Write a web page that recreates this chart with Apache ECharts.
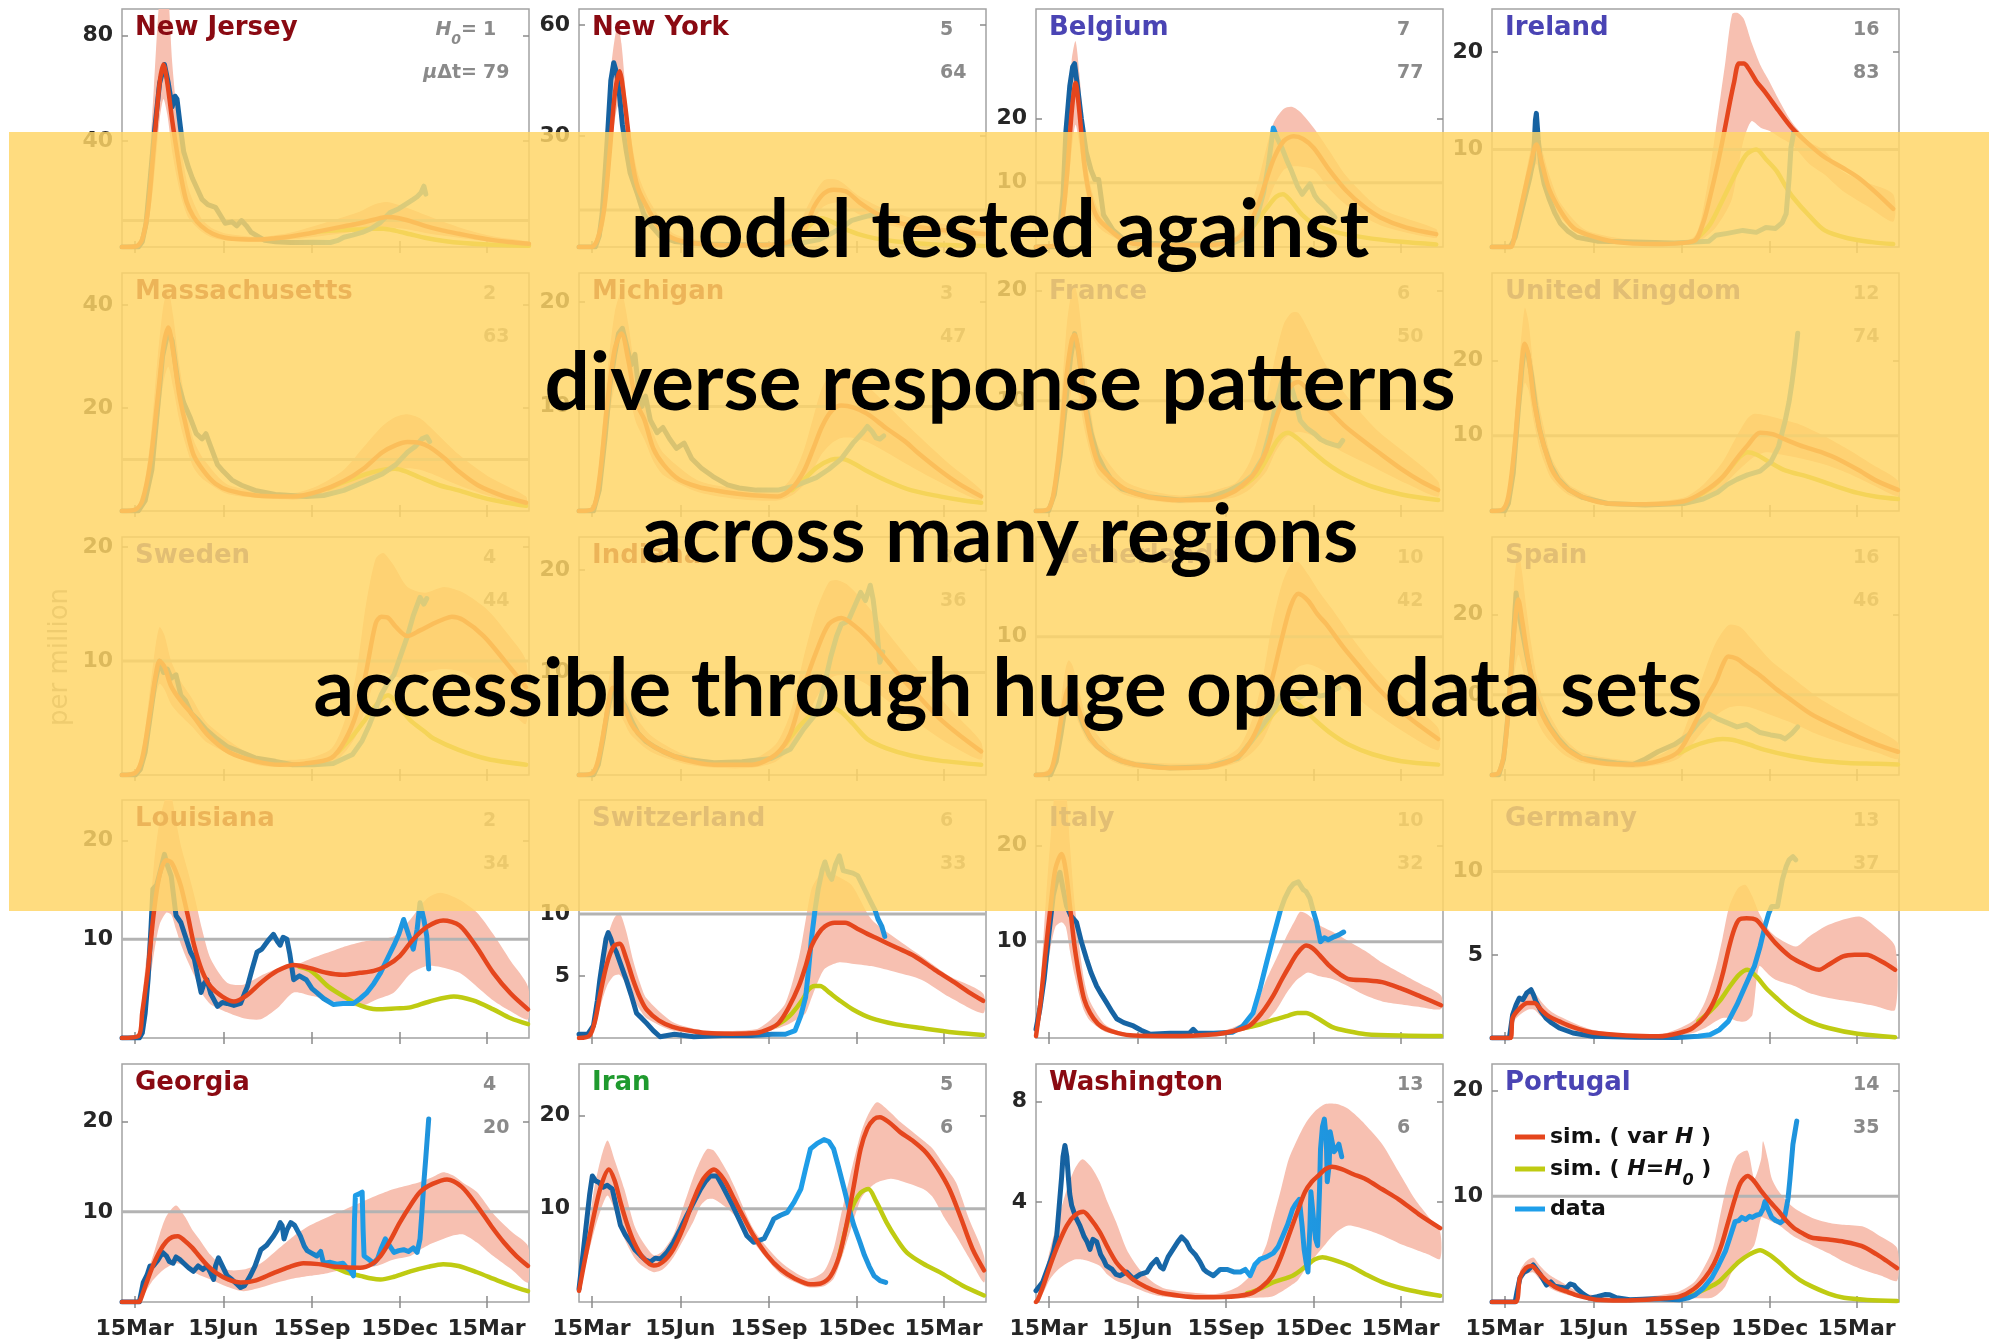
<!DOCTYPE html>
<html>
<head>
<meta charset="utf-8">
<script src="https://cdn.jsdelivr.net/npm/echarts@6.0.0/dist/echarts.min.js"></script>
<style>
  html, body { margin: 0; padding: 0; background: #ffffff; }
  #chart { width: 2001px; height: 1340px; }
</style>
</head>
<body>
<div id="chart"></div>
<script>
// ---- time axis: day number counted from 1 March 2020 ----
const tickDays = [14, 106, 198, 289, 379];
const tickLabels = ['15Mar', '15Jun', '15Sep', '15Dec', '15Mar'];
const dayMin = 1, dayMax = 423;
const REF_LEVEL = 10; // per-million guide line

// ---- regions, layout order row by row ----
const regions = ['New Jersey', 'New York', 'Belgium', 'Ireland',
  'Massachusetts', 'Michigan', 'France', 'United Kingdom',
  'Sweden', 'Indiana', 'Netherlands', 'Spain',
  'Louisiana', 'Switzerland', 'Italy', 'Germany',
  'Georgia', 'Iran', 'Washington', 'Portugal'];
const regionKind = ['us', 'us', 'eu', 'eu', 'us', 'us', 'eu', 'eu', 'eu', 'us', 'eu', 'eu',
  'us', 'eu', 'eu', 'eu', 'us', 'asia', 'us', 'eu'];
const h0Values = [1, 5, 7, 16, 2, 3, 6, 12, 4, 8, 10, 16, 2, 6, 10, 13, 4, 5, 13, 14];
const muDtValues = [79, 64, 77, 83, 63, 47, 50, 74, 44, 36, 42, 46, 34, 33, 32, 37, 20, 6, 6, 35];
const yMaxValues = [90, 64.3, 37, 24.4, 46.2, 22.8, 21.6, 31.6, 20.9, 23.2, 17.2, 29.7,
  24.1, 19.2, 24.7, 14.3, 26.4, 25.5, 9.5, 22.5];
const yTickValues = [[40, 80], [30, 60], [10, 20], [10, 20], [20, 40], [10, 20], [10, 20], [10, 20],
  [10, 20], [10, 20], [10], [10, 20], [10, 20], [5, 10], [10, 20], [5, 10],
  [10, 20], [10, 20], [4, 8], [10, 20]];

// ---- series per region: data [day, value], sim [day, value], simH0 [day, value], band [day, low, high] ----
const dataNJ = [[1,0],[18,0],[22,2],[26,9],[30,25],[35,45],[40,62],[45,69],[49,62],[53,53],[56,57],[58,56],[62,44],[65,36],[70,30],[74,26],[79,22],[84,18],[90,16],[98,15],[103,12],[108,9],[115,9.5],[120,8],[125,10],[130,8],[135,5.5],[142,4],[149,2.5],[160,2],[176,1.7],[200,1.8],[217,1.7],[225,2.5],[231,3.7],[240,4.5],[250,5.5],[259,6.9],[268,9],[279,13],[288,14.5],[297,16.6],[303,18],[307,19],[311,20.5],[314,23],[316,20]];
const simNJ = [[1,0],[16,0.3],[22,3],[28,14],[34,38],[40,62],[44,69],[48,62],[53,48],[58,36],[63,25],[68,17],[75,11.5],[83,8],[95,5],[108,3.5],[125,2.9],[143,2.8],[160,3.3],[176,4],[193,5],[210,6.3],[228,7.6],[245,8.8],[262,10.3],[276,11.3],[287,11],[300,9.8],[315,8],[333,6.3],[350,5],[367,3.8],[384,2.7],[402,1.9],[423,1.2]];
const h0NJ = [[200,5.6],[215,6.1],[230,6.4],[245,6.6],[260,6.9],[272,6.9],[285,6.1],[300,4.8],[315,3.5],[335,2.3],[355,1.5],[380,0.9],[400,0.7],[423,0.5]];
const bandNJ = [[1,0,0],[16,0,1],[22,1.5,6],[28,8,25],[34,25,60],[40,48,95],[44,56,100],[48,50,100],[53,36,70],[58,26,50],[63,18,36],[70,11,22],[83,6,11],[95,3.5,7],[110,2.4,5],[143,2,3.8],[176,2.8,5.5],[210,4.3,9],[245,6,13],[262,7,16],[276,7.5,17],[295,6.8,15],[320,5,11.5],[350,3.5,7.5],[384,1.9,4.2],[423,0.8,2]];

const dataNY = [[1,0],[18,0],[22,3],[25,9],[28,20],[31,32],[34,45],[37,49.8],[40,47],[43,41],[46,33],[50,26],[54,20],[58,17],[62,14],[68,9],[75,6],[85,3],[100,1.5],[130,0.8],[170,0.6],[210,0.7],[230,1],[250,2],[265,4],[275,5.5],[284,7.2],[295,8],[305,8.7],[308,8]];
const simNY = [[1,0],[14,0],[20,2],[27,10],[33,26],[38,41],[43,47.5],[48,40],[55,25],[62,16],[74,9.6],[85,5],[98,2.4],[120,1],[167,0.4],[200,0.6],[220,1.5],[235,5],[245,11],[255,14.5],[265,15.5],[278,15],[292,12],[310,9],[340,6],[380,4.5],[421,3.5]];
const h0NY = [[222,1.3],[235,4.5],[245,7],[252,7.8],[262,7],[280,4.5],[300,2.8],[330,1.5],[370,0.7],[421,0.3]];
const bandNY = [[1,0,0],[18,0,1],[27,6,15],[35,28,50],[41,38,60],[45,35,55],[52,22,35],[62,12,20],[75,6,12],[100,1.5,3.5],[170,0.3,0.8],[220,1,2.5],[240,6,12],[255,11,18],[270,12,18],[290,9,14],[320,6,10],[360,4,7],[421,2.5,4.5]];

const dataBE = [[1,0],[20,0],[25,2],[29,8],[32,18],[36,25],[39,28],[41,28.5],[44,25],[48,20],[53,14.8],[58,12],[62,10.5],[66,10.5],[71,5],[81,2.6],[92,1.2],[102,0.7],[130,0.5],[170,0.5],[205,0.6],[215,1.2],[225,3],[231,5.1],[237,8.5],[242,12.8],[247,18.5],[251,17],[256,15.4],[261,13.5],[266,11.8],[272,9.5],[277,8.2],[281,9],[285,9.8],[290,8],[294,7.2],[300,6.4],[305,5.6],[311,4.6]];
const simBE = [[1,0],[20,0.2],[27,3],[33,11],[38,21],[42,25.5],[46,21],[51,13],[57,7.7],[65,4.5],[78,2.6],[90,1.2],[102,0.5],[140,0.3],[190,0.4],[210,1.3],[222,3.5],[231,6.5],[240,10.5],[248,13.9],[258,16.5],[268,17.2],[278,16.8],[289,15.4],[305,12],[323,8.7],[340,6.4],[358,4.6],[385,3],[416,2]];
const h0BE = [[210,1.2],[225,3],[240,6],[250,7.8],[257,8.2],[265,7.2],[277,5],[289,3.6],[310,2.4],[341,1.5],[380,0.8],[416,0.4]];
const bandBE = [[1,0,0],[20,0,0.5],[27,2,5],[33,7,16],[38,15,29],[42,19,32],[46,16,27],[51,10,17],[57,5.5,10],[65,3.2,6],[78,1.8,3.5],[102,0.3,0.8],[190,0.2,0.6],[210,0.8,2],[222,2,5.5],[231,3.8,10],[240,6.5,15.5],[248,9.5,19.5],[258,12,21.5],[266,12.5,21.8],[275,12.5,21],[289,12,18.5],[305,9,15],[323,6.5,11],[358,3.4,6],[416,1.4,2.8]];

const dataIE = [[1,0],[20,0],[25,1],[30,3],[35,5],[40,7],[44,9],[46,13],[47,13.7],[49,11],[52,8],[55,6.5],[60,5],[66,3.5],[72,2.4],[80,1.6],[89,1],[110,0.6],[150,0.5],[190,0.4],[226,0.6],[233,1.2],[245,1.4],[261,1.7],[275,1.5],[285,2],[295,1.9],[302,2.5],[306,3.4],[309,7],[311,10.2],[314,11.8]];
const simIE = [[1,0],[20,0],[25,1.5],[32,4.5],[40,8],[47,10.5],[53,8.5],[60,6],[72,3.7],[85,2],[99,1.3],[130,0.5],[170,0.3],[210,0.6],[220,2.5],[227,5.1],[235,8.5],[242,11.9],[248,15],[252,16.9],[257,18.8],[262,18.8],[267,18.3],[275,17],[284,15.9],[298,14],[312,12.2],[330,10.5],[346,9.2],[365,8.1],[381,7.1],[400,5.5],[417,3.9]];
const h0IE = [[215,1],[227,2.3],[240,4.8],[255,7.8],[265,9.5],[275,10],[285,9],[296,7.8],[305,6.3],[313,5.1],[330,3.2],[346,1.7],[370,0.9],[395,0.5],[417,0.3]];
const bandIE = [[1,0,0],[20,0,0.5],[32,3.5,5.5],[40,6.5,9.5],[47,8.5,12.5],[53,7,10],[60,5,7.5],[72,3,4.5],[99,1,1.7],[170,0.2,0.5],[210,0.4,1],[222,1,5],[233,2,12],[243,3.5,19],[250,5,23.9],[256,8,24],[262,11,23.4],[270,12.9,21],[280,12.2,18.5],[289,11.9,16.9],[300,11.2,14.8],[312,10.5,12.8],[330,8.5,10.8],[346,7.4,9.9],[364,5.8,7.8],[390,4.2,6.6],[417,2.6,5.4]];

const dataMA = [[1,0],[18,0],[25,2],[32,8],[38,20],[43,30],[49,35],[53,33],[59,25],[65,21],[72,18],[78,15],[84,14],[88,15],[93,12.5],[100,9],[106,7.7],[115,6],[125,5],[139,4],[160,3.2],[192,2.8],[210,3],[231,4],[250,5.5],[271,7.2],[285,9],[297,11.4],[305,12.5],[312,14],[317,14.4],[320,13.5]];
const simMA = [[1,0],[15,0.3],[22,2],[30,9],[38,22],[44,32],[49,35.6],[54,31],[60,23],[66,17.6],[75,11],[86,7.7],[98,5.3],[112,4],[140,3],[178,2.8],[205,3.8],[231,5.8],[252,8.3],[271,11.4],[285,12.8],[297,13.4],[310,13.2],[320,12.4],[335,10.3],[350,7.7],[370,5],[395,3],[420,1.6]];
const h0MA = [[215,4.4],[231,5.6],[244,6.5],[260,7.5],[275,8.1],[284,8.2],[295,7.7],[310,6.5],[330,5],[350,4],[375,2.6],[400,1.6],[420,1]];
const bandMA = [[1,0,0],[15,0,0.6],[22,1.5,3],[30,6,13],[38,16,30],[44,25,40],[49,28,43],[54,24,38],[60,18,29],[66,13.5,22],[75,8.5,14],[86,6,10],[112,3.2,5],[178,2.2,3.5],[205,2.8,5],[231,4,8],[252,5.5,12.5],[271,7,16.5],[285,8,18.3],[297,8.3,18.8],[310,8,18],[325,7,15.5],[350,5,11],[380,3,6.8],[420,1,2.8]];

const dataMI = [[1,0],[16,0],[22,2],[28,7],[33,12],[38,15],[42,17],[46,17.5],[50,16],[55,14],[59,15],[62,12.3],[66,10],[70,11],[75,8.7],[82,7.5],[88,8],[95,6.9],[102,6],[110,6.5],[118,5],[128,4.1],[140,3.3],[155,2.5],[167,2.2],[185,2],[207,2],[225,2.4],[247,3.2],[260,4],[273,5],[285,6.5],[295,7.5],[300,8.1],[305,7.6],[309,7],[313,6.9],[317,7.2]];
const simMI = [[1,0],[15,0.2],[22,3],[30,10],[38,15.5],[45,17],[52,14.5],[60,10.5],[69,8.7],[78,6],[89,4.4],[105,3],[125,2.3],[141,2],[170,1.6],[207,1.4],[222,2.2],[234,3.8],[244,6],[253,8.1],[263,9.6],[273,10.1],[286,9.9],[300,9.3],[320,7.9],[340,6.6],[352,5.6],[375,3.9],[395,2.6],[418,1.4]];
const h0MI = [[222,2],[234,3],[248,4.2],[262,4.9],[273,5],[285,4.6],[300,3.8],[320,2.9],[345,2],[375,1.4],[400,1],[418,0.8]];
const bandMI = [[1,0,0],[15,0,0.5],[22,2,4.5],[30,7.5,13],[38,12,19],[45,13.5,21],[52,11.5,18],[60,8.5,13],[69,6.8,10.5],[78,4.8,7.5],[89,3.4,5.5],[125,1.8,2.9],[170,1.1,2.1],[207,1,1.9],[222,1.5,3.3],[234,2.5,5.8],[244,4,9],[253,5.5,11.8],[263,6.5,13.2],[273,7,13.5],[286,7,13],[300,6.6,12],[320,5.6,10.2],[352,3.9,7.3],[385,2.3,4.5],[418,1,2]];

const dataFR = [[1,0],[14,0],[20,1.5],[26,5],[32,10],[37,14],[41,16.1],[45,14.5],[50,11],[54,9],[58,7.1],[65,5],[72,3.8],[78,3],[90,2],[117,1.3],[150,1],[180,1.2],[200,1.8],[215,2.5],[225,3.2],[236,4.8],[243,7],[249,9.4],[255,11.5],[260,12.9],[265,11.5],[270,10],[275,8.2],[282,7.5],[290,7],[296,6.5],[303,6.2],[310,6],[315,5.9],[319,6.4]];
const simFR = [[1,0],[14,0.2],[20,2],[27,7],[33,12.5],[38,15.5],[41,16],[45,14.5],[51,10],[58,6.5],[66,4.2],[78,3],[95,1.9],[117,1.3],[150,1],[180,1],[205,1.7],[220,2.7],[229,3.6],[240,5.5],[249,8.2],[258,10.3],[266,11.4],[273,11.7],[283,11],[292,10.2],[302,9.4],[320,7.8],[340,6.4],[355,5.4],[380,3.8],[400,2.7],[418,1.9]];
const h0FR = [[215,2.2],[230,3.3],[242,5],[252,6.5],[262,7.1],[272,6.6],[285,5.6],[300,4.5],[315,3.6],[328,3],[350,2.2],[380,1.5],[418,1]];
const bandFR = [[1,0,0],[14,0,0.5],[20,1.2,3],[27,4.5,10],[33,8.5,17],[38,11,20],[41,11.5,20.5],[45,10.5,19],[51,7.5,14],[58,5,9],[66,3.2,5.8],[95,1.4,2.6],[150,0.7,1.4],[205,1.2,2.4],[220,1.8,4],[229,2.5,6],[240,3.6,10],[249,5.3,14],[258,6.5,17],[266,7,18],[273,7.2,18],[283,7,16.5],[300,6.3,13.5],[320,5.3,10.8],[355,3.8,7.3],[385,2.5,5.2],[418,1.3,2.7]];

const dataUK = [[1,0],[14,0],[18,1],[23,5],[28,13],[32,19],[35,22],[38,21],[42,18],[46,14],[50,11],[55,8.6],[62,6],[70,4.2],[81,2.8],[95,1.8],[121,1],[160,0.8],[200,1],[220,1.6],[235,2.5],[245,3.5],[255,4.2],[266,4.8],[279,5.3],[290,6.5],[298,8.5],[305,12],[309,14.5],[312,17],[315,20],[318,23.6]];
const simUK = [[1,0],[12,0.2],[18,2],[24,8],[30,17],[35,22.2],[39,20.5],[44,15],[50,11],[55,8.6],[63,5.5],[72,3.8],[81,2.8],[100,1.6],[121,1],[160,0.9],[200,1.3],[220,2.5],[240,4.5],[255,7],[266,8.7],[279,10.4],[292,10.2],[305,9.5],[325,8.5],[345,7.7],[358,7],[380,5.5],[400,4],[422,2.8]];
const h0UK = [[215,2],[235,3.8],[250,6],[258,7.2],[266,7.8],[275,7.5],[290,6.4],[305,5.4],[330,4.5],[355,3.4],[380,2.4],[400,1.9],[422,1.6]];
const bandUK = [[1,0,0],[12,0,0.5],[18,1.5,3],[24,6,11],[30,13,21],[35,17,27],[39,16,25],[44,12,19],[50,8.5,14],[55,6.5,11],[63,4.2,7],[81,2.1,3.5],[121,0.7,1.3],[160,0.6,1.2],[200,1,1.8],[220,1.8,3.5],[240,3.3,6.5],[255,5.2,10],[266,6.5,12.3],[273,7.2,12.9],[285,7.8,12.7],[300,7.5,12.2],[320,7,11.5],[345,6.2,10],[370,5,8.2],[395,3.5,6.2],[422,2,4]];

const dataSE = [[1,0],[15,0],[20,0.5],[25,2],[30,5],[35,8],[40,10],[44,9],[48,9.3],[52,8.5],[57,8.8],[62,7],[67,6.5],[73,5.4],[80,4.8],[88,4],[99,3.2],[110,2.5],[125,2],[139,1.5],[160,1.2],[178,0.9],[200,0.9],[220,1],[240,1.8],[250,3],[257,4.3],[264,5.8],[270,7.1],[276,8],[283,8.8],[290,10.5],[297,12.2],[303,14],[310,15.6],[314,15],[317,15.5]];
const simSE = [[1,0],[15,0.2],[22,1.5],[30,5.5],[36,8.8],[40,10],[45,9.5],[52,7.8],[62,6.5],[73,5.4],[90,3.5],[112,2],[140,1.2],[165,0.9],[190,1],[218,1.5],[232,3],[244,5.4],[254,9],[264,13.3],[270,13.9],[277,13.8],[285,13],[297,12.2],[310,12.7],[324,13.3],[335,13.7],[343,13.9],[355,13.6],[376,12.2],[398,10],[420,7.7]];
const h0SE = [[225,2],[240,3.4],[250,4.5],[257,5.3],[268,6.5],[277,7],[288,6],[300,4.8],[315,3.8],[324,3.2],[350,2.2],[380,1.4],[420,0.9]];
const bandSE = [[1,0,0],[15,0,0.5],[22,1,2.2],[30,4.2,7.5],[36,7,11.5],[40,8,13],[45,7.5,12.3],[52,6.2,10],[62,5.2,8.2],[73,4.3,6.8],[90,2.8,4.5],[140,0.9,1.6],[190,0.7,1.4],[218,1,2.3],[232,2,4.8],[244,3.5,9],[254,6,15],[264,8.5,19],[272,9,19.5],[282,8.7,18.5],[297,8.5,16.5],[315,9,16],[335,9.3,16.5],[355,9,16],[380,7.5,14.5],[400,6,12.5],[420,4.5,10]];

const dataIN = [[1,0],[16,0],[21,1],[26,3.5],[31,6.5],[35,8],[39,8.2],[44,7.5],[50,6.5],[56,5.2],[62,4.1],[70,3.3],[80,2.7],[88,2.3],[100,1.8],[115,1.5],[141,1.2],[170,1.3],[200,1.6],[220,2.5],[234,4.5],[247,6],[256,9],[262,11.5],[268,13.5],[273,14.7],[280,15],[287,16.5],[293,17.8],[298,17],[303,18.5],[306,17.1],[310,14],[313,11],[316,12]];
const simIN = [[1,0],[15,0.2],[21,1.5],[28,5],[33,7.8],[36,8.5],[40,8.2],[47,6.8],[55,5],[62,4.1],[75,3],[88,2.3],[110,1.5],[141,1],[180,1],[205,2],[220,4],[234,8.5],[247,12],[260,14.7],[273,15.3],[286,14.6],[300,13.4],[320,11.2],[337,9.3],[352,7.8],[375,5.5],[398,3.7],[418,2.3]];
const h0IN = [[215,3],[230,4.8],[245,6.1],[260,6.6],[272,6.2],[285,5],[300,3.5],[320,2.6],[345,1.9],[375,1.4],[418,1]];
const bandIN = [[1,0,0],[15,0,0.5],[21,1,2.5],[28,3.8,6.5],[33,6,10],[36,6.6,11],[40,6.4,10.6],[47,5.3,8.7],[55,3.9,6.4],[75,2.3,3.9],[110,1.1,2],[141,0.7,1.4],[180,0.7,1.5],[205,1.3,3],[220,2.6,6],[234,5,11.5],[247,7.5,16],[260,9.3,18.8],[268,9.7,19],[280,9.7,18.5],[300,8.8,16.5],[320,7.3,14],[350,5.2,10.5],[385,3,6.5],[418,1.5,3.2]];

const dataNL = [[1,0],[16,0],[22,1],[27,3],[31,4.8],[35,5.8],[39,5.6],[44,4.8],[50,3.6],[57,2.7],[64,2.1],[75,1.5],[90,1],[104,0.75],[140,0.5],[180,0.6],[210,1.2],[225,2.5],[236,3.6],[243,4.3],[249,4.9],[255,5.8],[262,6.3],[268,6],[274,5.6],[281,5.9],[288,6.1],[295,5.7],[302,5.8],[309,6.1],[315,6.3]];
const simNL = [[1,0],[15,0.2],[21,1.5],[27,4],[32,5.8],[35,6.3],[39,6],[45,4.8],[55,3],[64,2.1],[80,1.3],[104,0.75],[140,0.5],[180,0.6],[210,1.3],[225,2.6],[236,4.4],[246,7],[256,9.9],[265,12.2],[273,13.1],[283,12.6],[293,11.6],[302,10.9],[320,9.2],[338,7.7],[355,6.3],[380,4.6],[400,3.5],[418,2.6]];
const h0NL = [[220,2.1],[235,3.3],[248,4.5],[258,5.1],[265,5.3],[275,5],[290,4],[305,3.1],[325,2.2],[350,1.5],[380,1],[418,0.75]];
const bandNL = [[1,0,0],[15,0,0.5],[21,1,2.3],[27,3,5.5],[32,4.5,7.8],[35,5,8.3],[39,4.8,7.9],[45,3.8,6.3],[55,2.4,3.9],[80,1,1.7],[104,0.5,1],[180,0.4,0.9],[210,0.9,1.9],[225,1.6,4],[236,2.5,7],[246,4,11],[256,5.8,13.8],[265,7.2,15.2],[273,7.8,15.4],[283,8,14.5],[295,7.7,13.2],[310,7,11.8],[330,5.8,9.8],[355,4.4,7.6],[385,3,5.4],[418,1.8,3.4]];

const dataES = [[1,0],[8,0],[13,2],[18,8],[22,15],[26,22.7],[29,20],[33,17.5],[37,15],[41.5,12.4],[46,10],[52,8],[61,6],[70,4.5],[80,3.2],[94,2.1],[110,1.8],[130,1.5],[147,1.3],[160,2],[173,2.9],[190,3.8],[205,5],[215,6.5],[226,7.6],[235,7],[245,6.5],[255,6],[265,6.3],[279,5.3],[290,5],[300,4.8],[305,4.5],[312,5.2],[318,6]];
const simES = [[1,0],[8,0.3],[14,3],[19,10],[24,18],[28.3,21.9],[32,19.5],[37,15.5],[41.5,12.4],[47,9.5],[54,7.3],[61,5.8],[75,3.6],[94,2.1],[120,1.4],[147,1.3],[175,1.8],[195,3],[213,6.9],[223,9.5],[233,11.6],[240,13.7],[246,14.8],[255,14.5],[265,13.6],[279,12.4],[295,10.8],[312,9.3],[332,7.6],[355,6.2],[380,4.8],[400,3.8],[422,2.9]];
const h0ES = [[195,2.7],[210,3.6],[225,4.2],[240,4.5],[250,4.4],[265,3.9],[285,3.1],[310,2.4],[340,1.8],[370,1.5],[400,1.4],[422,1.3]];
const bandES = [[1,0,0],[8,0,0.6],[14,2,4.5],[19,7,13.5],[24,12.5,24],[28.3,15,28],[32,13.5,25.5],[37,11,20.5],[41.5,9,16.5],[47,7,12.5],[54,5.3,9.5],[61,4.2,7.5],[75,2.6,4.7],[94,1.5,2.8],[147,0.9,1.8],[175,1.3,2.5],[195,2.1,4.2],[213,4.5,10],[223,6,13.5],[233,7.4,16.5],[246,8.4,18.7],[258,8.6,18.5],[270,8.4,17],[290,7.5,14.3],[312,6.5,12.2],[340,5,9.6],[370,3.8,7.5],[400,2.8,5.6],[422,2,4]];

const dataLA = [[1,0],[19,0],[22,0.5],[25,2.5],[28,5.9],[31,11],[33,15.1],[37,15.5],[41,17],[45,18.6],[48,17.5],[52,16.4],[55,14],[57,12.4],[62,11.7],[66,10.5],[72,8.7],[76,8],[80,6],[83,4.6],[86,5.5],[89,5.9],[93,4.5],[100,3.2],[105,3.6],[110,3.5],[117,3.3],[124,3.5],[128,4.5],[131,5.2],[136,7],[141,8.7],[146,9],[152,9.8],[158,10.5],[162,9.8],[165,9.4],[168,10.2],[172,10],[175,8.5],[179,5.9],[185,6.3],[192,5.9],[198,5],[203,4.6],[210,4],[220,3.4],[230,3.5],[241,3.5],[248,4],[255,4.6],[262,5.5],[269,6.6],[276,8],[283,9.4],[288,10.5],[293,12],[298,10.5],[303,9],[307,11],[310,13.7],[314,12],[317,10.3],[319,7]];
const simLA = [[1,0],[18,0.2],[22,2.6],[28,7],[34,12.7],[40,16.5],[47,18],[52,17.8],[57,16.8],[62,15.4],[69,12.5],[76,9.3],[84,6.8],[93,5.2],[105,4.2],[117,3.7],[130,4.3],[145,5.6],[162,6.8],[179,7.4],[195,7.1],[213,6.6],[230,6.4],[248,6.6],[262,6.8],[275,7.3],[289,8.3],[303,10],[318,11.3],[334,11.9],[351,11.4],[368,9.3],[386,6.6],[404,4.5],[422,2.9]];
const h0LA = [[185,7.2],[195,6.9],[203,6.3],[215,5.2],[231,4.2],[248,3.3],[265,2.9],[285,3],[300,3.1],[320,3.7],[345,4.2],[365,3.8],[386,2.9],[404,2],[422,1.4]];
const bandLA = [[1,0,0],[18,0,0.5],[22,1.5,4],[28,4.5,10],[34,8.5,17.5],[40,11.5,22],[47,12.7,24.5],[52,12.5,24.5],[57,11,22],[62,9.5,19.5],[69,7.8,17],[76,6.3,14.4],[84,4.5,11],[93,3.4,8],[110,2.6,5.6],[127,2,5.4],[145,1.9,6.3],[162,3,7],[179,4.6,7.3],[196,4.3,8],[213,3.9,8.6],[230,3.5,9.2],[248,3.2,9.7],[265,3.9,10],[283,4.6,10.3],[300,6.5,12],[317,7.3,14.1],[331,7.2,14.7],[351,6.6,14],[369,5.2,12.7],[386,3.8,10.5],[404,2.7,7.8],[422,1.9,5.2]];

const dataCH = [[1,0.3],[10,0.3],[16,1],[20,3],[22.6,4.7],[26,6.5],[29,8],[31.3,8.5],[34,8],[36,7.5],[39.9,6.9],[44,6],[50,4.7],[55,3.5],[60.7,2],[66,1.6],[71,1.2],[78,0.6],[85,0.1],[100,0.3],[120,0.1],[150,0.2],[180,0.2],[201,0.3],[215,0.3],[225,0.6],[231,1.8],[236,3.3],[239,5.5],[242,8],[246,10.5],[249,12],[253,13.5],[256,14.2],[260,13.2],[263,12.8],[267,14],[271,14.7],[275,13.5],[280,13.4],[285,13.3],[290,13.1],[297,12],[304,10.9],[308,10.3],[311,9.6],[315,9],[318,8.2]];
const simCH = [[1,0],[12,0.2],[18,1.5],[22.6,3.4],[30,6],[37,7.4],[43,7.6],[50,6.4],[57,4.7],[64,3.3],[71,2.3],[84,1.4],[98,0.9],[115,0.6],[133,0.4],[160,0.35],[184,0.4],[200,0.8],[208,1.2],[218,2.4],[229,4.2],[236,5.8],[242,7.4],[249,8.4],[256,9],[266,9.3],[277,9.3],[290,8.8],[300,8.4],[311,8],[330,7.3],[349,6.6],[370,5.5],[390,4.5],[405,3.7],[420,3]];
const h0CH = [[205,1],[215,1.5],[222,2],[232,3],[239,3.9],[245,4.2],[251,4.2],[260,3.7],[270,3.1],[285,2.3],[304,1.6],[330,1.1],[356,0.8],[390,0.45],[420,0.25]];
const bandCH = [[1,0,0],[12,0,0.5],[18,1,2.5],[22.6,2.4,5],[30,4.2,8],[37,5,9.6],[43,5.1,10.1],[50,4.3,8.6],[57,3.2,6.3],[64,2.3,4.5],[71,1.6,3.2],[98,0.6,1.3],[133,0.3,0.6],[184,0.3,0.7],[200,0.6,1.5],[215,1,2.8],[229,1.6,6.5],[236,2,9.5],[242,3.2,12],[249,4.6,13],[256,5.6,13.6],[270,6.1,13],[284,6,12.3],[304,5.8,9.6],[330,5.3,8],[356,4.7,6.6],[385,3.3,5],[420,2,3.6]];

const dataIT = [[1,0.9],[5,3],[9.4,6.1],[14,10.5],[18.9,14.8],[23,16.5],[25.8,17.2],[29,15.5],[32.7,13.7],[37,12.7],[43,12],[48,10],[53.4,8.2],[58,6.8],[63.8,5.4],[69,4.5],[74,3.7],[80,2.7],[84.6,2],[92,1.6],[102,1.25],[110,0.8],[119,0.4],[140,0.5],[160,0.5],[164,0.9],[168,0.5],[185,0.5],[205,0.6],[215,1.2],[226,2.6],[233,5],[240,7.8],[247,10.5],[254,13.1],[259,14.5],[264,15.5],[268,16],[273,16.2],[278,15.4],[281,15.2],[285,14.5],[289,13],[292,12],[294,11],[296,10],[300,10.4],[304,10.2],[306,10.3],[310,10.5],[315,10.7],[320,11]];
const simIT = [[1,0.2],[6,4],[11,9],[15.5,13.1],[21,17.5],[27.5,19.1],[32,17.3],[36.2,13.7],[41,9.5],[46.5,6.1],[51,4],[57,2.6],[65,1.5],[74,0.9],[86,0.5],[102,0.25],[140,0.2],[188,0.4],[205,0.7],[222,1.25],[235,2.6],[247,4.4],[256,6.1],[264,7.5],[272,8.8],[281,9.6],[288,9.3],[295,8.6],[305,7.5],[315,6.7],[326,6.1],[343,6],[360,5.8],[378,5.2],[400,4.3],[421,3.4]];
const h0IT = [[215,1],[233,1.4],[248,1.9],[262,2.3],[272,2.6],[281,2.6],[292,2.1],[309,1.1],[325,0.7],[343,0.4],[380,0.25],[421,0.2]];
const bandIT = [[1,0,0.4],[6,2.5,6],[11,6,14],[15.5,9,20],[21,11.5,26],[27.5,12,28],[32,11.5,26],[36.2,9,20],[41,6.5,14],[46.5,4.2,9],[51,2.8,6],[57,1.8,3.8],[74,0.6,1.3],[102,0.15,0.4],[188,0.3,0.6],[222,0.9,2],[240,1.8,6.1],[250,2.9,8.2],[261,4.7,10.6],[270,5.9,12.3],[275,6.3,13.1],[283,6.8,12.8],[295,6.4,11.7],[309,6.1,11],[326,5.3,10],[343,4.4,9],[360,3.8,7.8],[378,3.5,6.8],[400,3.2,5.6],[421,3,4.4]];

const dataDE = [[1,0],[19,0],[22.4,1.4],[26,2],[29.3,2.4],[33,2.3],[37,2.7],[41.5,2.9],[44,2.6],[46.5,2.2],[52,1.6],[56.9,1.2],[63,0.9],[70.7,0.6],[85,0.3],[105,0.1],[150,0.05],[193,0.03],[215,0.1],[227,0.2],[237,0.5],[246,1],[255,2],[263,3.05],[268,3.7],[273,4.3],[279,5.5],[284,6.7],[288,7.5],[291,7.9],[297,7.9],[302,9.5],[306,10.3],[309,10.7],[313,10.9],[316,10.7]];
const simDE = [[1,0],[20,0],[22.4,1.2],[30,1.8],[38,2.1],[44.8,2.1],[52,1.7],[60,1.3],[70.7,1],[85,0.65],[105,0.33],[140,0.15],[174,0.1],[195,0.3],[209,0.6],[222,1.3],[233,2.45],[240,3.8],[247,5.5],[252,6.5],[257,7.1],[265,7.2],[275,7.1],[285,6.4],[295,5.7],[310,4.9],[322,4.5],[333,4.2],[340,4.1],[350,4.4],[365,4.9],[377,5],[389,5],[405,4.6],[419,4.1]];
const h0DE = [[215,1],[227,1.6],[238,2.3],[247,3.05],[257,3.8],[266,4.1],[275,3.7],[285,3],[295,2.45],[310,1.7],[330,1],[350,0.6],[380,0.25],[419,0.05]];
const bandDE = [[1,0,0],[20,0,0.2],[22.4,0.9,1.6],[30,1.4,2.3],[38,1.7,2.6],[44.8,1.7,2.7],[52,1.3,2.2],[60,1,1.7],[70.7,0.7,1.3],[105,0.2,0.5],[174,0.05,0.2],[209,0.3,1],[222,0.6,2.2],[233,1,4.2],[240,1.2,6],[247,1.2,7.9],[256,1,9],[264,1,9.2],[271,1.4,8.5],[278,4.3,7.5],[288,3.8,6.5],[295,3.5,6.1],[316,3.1,5.5],[330,2.7,6.1],[350,2.4,6.8],[382,2.1,7.3],[400,1.9,6.6],[419,1.7,5.5]];

const dataGA = [[1,0],[19,0],[23,2.15],[27,3],[30,4],[33.4,4],[38,4.6],[43,5.5],[47.2,5.1],[50,4.5],[54,4.3],[57,5],[61,4.7],[65,4.3],[70,3.8],[75,3.4],[80,4],[85,3.6],[89,4],[93,3.2],[96,2.5],[98,4],[101,4.9],[105,4],[110,2.9],[115,2.5],[120,2],[124,1.6],[128,1.8],[134,2.9],[139,4],[145,5.8],[151,6.3],[158,7.3],[162,8],[165,8.8],[167,8.5],[169,7],[172,8],[176,8.8],[180,8.5],[186,7.3],[190,6.2],[193,5.7],[198,5.4],[203,5.1],[207,5.6],[210,4.3],[217,4.4],[224,4.2],[230,4.3],[234,3.8],[238,3.5],[241,2.9],[242,9],[243,11.8],[247,12],[250,12.2],[251,8],[252,5.1],[256,4.8],[262,4.3],[266,4.8],[270,6],[274,7],[278,6.3],[283,5.5],[288,5.7],[293,5.8],[298,5.6],[303,6],[307,5.5],[310,7],[312,10],[314,13.3],[316,16],[319,20.3]];
const simGA = [[1,0],[18,0],[20,0.2],[26,2],[33,4],[40,5.6],[47,6.7],[53,7.2],[59,7.3],[66,6.8],[74,6],[81,5.1],[90,4],[99,3.2],[111,2.5],[124,2.15],[140,2.4],[158,3.2],[175,3.9],[189,4.3],[205,4.2],[224,3.9],[248,3.8],[260,4.2],[269,5.1],[279,6.8],[289,8.8],[300,10.7],[310,12.2],[323,13.1],[338,13.6],[353,12.8],[369,10.7],[384,8.4],[397,6.6],[410,5.1],[422,4]];
const h0GA = [[215,4],[224,3.7],[236,3.2],[248,2.9],[260,2.6],[269,2.5],[283,2.8],[300,3.4],[318,3.9],[334,4.2],[350,4],[369,3.3],[390,2.4],[405,1.8],[422,1.2]];
const bandGA = [[1,0,0],[18,0,0.3],[26,1.2,2.8],[33,2.4,5.1],[40,3.2,7.5],[47,3.8,9.5],[57,4.3,10.7],[66,4,9.5],[74,3.4,8],[81,3,7],[93,2.5,5.2],[110,1.7,3.6],[127,1.2,3.6],[145,1.6,4.3],[162,2.15,5.8],[179,2.6,7.3],[196,2.9,8.5],[214,3.2,9.4],[231,3.6,10.2],[248,3.8,11],[265,4,11.8],[282,4.7,12.5],[300,5.1,13],[310,5.8,13.3],[322,6.5,13.8],[334,7,14.4],[345,7.4,14],[355,7.5,13.2],[369,6.6,12.2],[386,5.1,9.8],[405,3.6,7.8],[422,2.15,6.2]];

const dataIR = [[1,1.4],[5,5],[9.6,9.3],[12,11.5],[14.8,13.5],[18,13],[21.7,12.8],[26,12.3],[30.3,12.5],[33,12.3],[35.5,12.1],[39,10.5],[44,8.2],[49,7.2],[54.4,6.4],[59,5.6],[64.8,5],[70,4.5],[75,4.3],[80,4.7],[85.5,4.6],[92,5.3],[99,6.4],[106,7.8],[113,9.3],[120,10.7],[127,12.1],[132,12.9],[137,13.5],[144,13.5],[150,12.4],[155,11.4],[160,10.4],[165,9.3],[170,8.2],[175,7.1],[182,6.4],[188,6.6],[193,6.8],[198,7.8],[203,8.9],[210,9.3],[217,9.6],[224,10.7],[231,12.1],[236,14.3],[241,16.4],[248,17],[255,17.4],[260,17.2],[265,16.4],[270,14.5],[276,12.1],[281,10],[286,8.2],[292,6.5],[297,5],[302,3.8],[307,2.8],[313,2.3],[319,2.1]];
const simIR = [[1,1.2],[8,5],[16.5,9.3],[24,12.5],[32,14.2],[38,13],[44,10.7],[51,8.3],[58,6.4],[67,4.8],[78.5,3.9],[88,4.3],[99,5.7],[110,8.2],[120,11],[130,13.2],[141,14.2],[152,13],[162,11],[172,9],[182,7.1],[196,5],[210,3.5],[225,2.5],[241,1.9],[252,2],[262,2.8],[271,5],[279,8.6],[286,12.5],[293,16.4],[300,18.6],[307,19.6],[313,19.8],[323,19.2],[334,18.2],[348,17.2],[361,16],[373,14.3],[385,12.1],[397,9],[409,5.7],[421,3.4]];
const h0IR = [[271,5],[279,8.4],[285,10.3],[293,11.7],[301,12.1],[309,10.8],[320,8.5],[330,6.8],[341,5.3],[358,4.1],[375,3.2],[398,1.8],[421,0.7]];
const bandIR = [[1,1,1.4],[8,4,6],[16.5,7.5,12],[24,10,15.5],[30.6,11.4,17.3],[38,9.8,15.2],[48,6.8,12.1],[58,4.8,8.3],[65,4,6.8],[78.5,3.2,5],[88,3.5,5.5],[99,4.8,7.2],[110,6.8,10.5],[120,8.7,13.5],[127,10.3,15.2],[134,11,16.4],[141,11,16.2],[155,10,13.9],[162,9.3,12.4],[182,6.4,7.8],[210,3,4.3],[238,1.6,2.5],[255,1.7,3.3],[265,2.5,5.7],[272,4.3,9],[282,7.5,13.5],[293,11,18],[300,12,19.9],[310,12.8,21.4],[324,13.2,20.3],[334,13,19.3],[358,12.1,17.3],[368,11.2,16.4],[380,9,14.6],[392,7.1,12.8],[405,4.8,9],[421,2.1,4.9]];

const dataWA = [[1,0.45],[8,0.8],[15.6,1.6],[19,2],[22.5,2.65],[25,3.8],[27.6,5],[29,5.8],[31,6.25],[33,5.8],[34.5,5],[36,4.3],[38,3.85],[42,3.4],[46.5,3.05],[51,2.6],[54,2.4],[57,2.1],[60,2.5],[64,2.4],[68,1.9],[71,1.7],[74,1.45],[80,1.3],[84,1.1],[88,1.05],[95,1.2],[102,0.92],[109,1.1],[116,1.19],[121,1.5],[126,1.7],[130,1.4],[133,1.32],[138,1.8],[143,2.1],[148,2.4],[152,2.6],[157,2.4],[161,2.1],[166,1.9],[171,1.6],[175,1.3],[178,1.2],[185,1.05],[192,1.3],[199,1.3],[206,1.2],[213,1.2],[218,1.3],[223,1.05],[228,1.5],[233,1.7],[240,1.8],[247,1.95],[252,2.2],[257,2.65],[262,3.1],[267,3.7],[270,3.9],[274,4.1],[277,3],[279,2.1],[281,1.6],[283,1.2],[285,3],[286,4.4],[289,3.2],[291,2.5],[293,2.25],[295,4.5],[296,6.1],[298,7],[300,7.3],[302,6.5],[303,4.8],[305,5.5],[306,6.8],[308,6.4],[310,6],[312,6.1],[315,6.3],[318,5.8]];
const simWA = [[1,0],[3,0.1],[9,0.7],[15.6,1.45],[24,2.3],[33,3.05],[41,3.45],[50,3.6],[58,3.3],[67,2.8],[75,2.2],[84,1.6],[92,1.25],[101,0.92],[115,0.6],[129,0.39],[150,0.25],[170,0.19],[195,0.2],[222,0.32],[235,0.6],[246,1.05],[255,1.8],[263,2.65],[272,3.6],[280,4.4],[287,4.8],[294,5.05],[301,5.3],[308,5.4],[318,5.3],[330,5.1],[343,4.9],[360,4.5],[377,4.1],[398,3.5],[420,2.95]];
const h0WA = [[220,0.35],[233,0.52],[248,0.8],[267,1.05],[280,1.4],[290,1.7],[298,1.79],[308,1.7],[326,1.45],[343,1.1],[360,0.79],[380,0.55],[400,0.38],[420,0.25]];
const bandWA = [[1,0,0],[3,0,0.3],[9,0.4,1],[15.6,0.92,2.1],[24,1.3,3.3],[33,1.55,4.5],[41,1.7,5.3],[49,1.7,5.7],[58,1.6,5.4],[67,1.45,4.8],[75,1.1,4],[84,0.85,3.2],[95,0.7,2.1],[108,0.5,1.32],[122,0.3,0.8],[136,0.2,0.52],[187,0.12,0.32],[210,0.14,0.6],[226,0.17,1.19],[240,0.19,2.3],[246,0.22,3.2],[255,0.4,4.5],[263,0.6,5.7],[272,0.85,6.5],[280,1.3,7.1],[290,1.8,7.6],[301,2.3,7.9],[313,2.8,7.9],[325,3.05,7.7],[342,2.9,7.1],[360,2.65,6.3],[377,2.35,5.2],[394,2.1,4.1],[408,1.9,3.4],[420,1.72,2.8]];

const dataPT = [[1,0],[25,0],[27,1],[30,2.3],[34,2.8],[38,3],[43.7,3.5],[47,3.1],[51,2.6],[57.5,1.6],[62,1.9],[66,1.5],[72,1.4],[78,1.3],[82,1.7],[86,1.6],[88.6,1.3],[95,0.8],[102,0.37],[110,0.5],[118,0.7],[123,0.69],[130,0.4],[144,0.22],[170,0.3],[195,0.22],[205,0.4],[212,0.69],[220,1.3],[229,2.3],[236,3.5],[243,4.8],[248,6.2],[253,7.6],[257,7.7],[260,8],[264,7.8],[268,8.1],[271,8],[275,8.2],[279,8.3],[282,8.8],[284,9.5],[287,8.8],[291,8],[295,7.7],[300,7.5],[303,7.7],[305,8.3],[308,9.8],[310,11.7],[313,14.9],[315,16],[317,17.1]];
const simPT = [[1,0],[25,0],[30,2.3],[36,3.2],[42,3.4],[49,2.8],[57.5,2],[67,1.4],[78,1],[92,0.55],[109,0.22],[135,0.15],[161,0.22],[180,0.35],[195,0.5],[210,1.2],[222,2.3],[231,3.6],[239,5.4],[246,7.6],[253,9.8],[259,11.3],[266,11.9],[273,11.4],[280,10.5],[289,9.5],[298,8.6],[306,7.7],[314,7],[323,6.5],[332,6.1],[350,5.9],[366,5.7],[384,5.3],[400,4.5],[410,3.9],[421,3.2]];
const h0PT = [[200,0.5],[212,0.8],[224,1.3],[236,1.9],[247,2.9],[257,3.8],[268,4.5],[279,4.9],[288,4.5],[298,3.8],[310,2.8],[320,2.1],[332,1.5],[350,0.8],[366,0.4],[390,0.2],[421,0.1]];
const bandPT = [[1,0,0],[25,0,0.2],[30,1.6,2.9],[36,2.6,3.8],[43.7,2.8,4.2],[50,2.2,3.5],[60,1.4,2.6],[71,0.9,2],[90,0.45,1],[126,0.1,0.4],[160,0.1,0.5],[195,0.2,1],[212,0.35,2],[229,0.4,4.8],[236,0.8,7.5],[243,1.5,10.5],[250,2.9,12.8],[256,3.8,13.9],[266,4.6,14.3],[273,5.4,11.7],[280,8,13.5],[282,8,15.2],[287,7.8,13.5],[291,7.6,11.7],[298,7.3,10.5],[314,6.2,8.9],[332,5.4,8],[350,4.6,7.5],[366,3.8,7.3],[387,3,7.1],[404,2.5,6.2],[421,2,5.1]];

const dataSets = [dataNJ, dataNY, dataBE, dataIE, dataMA, dataMI, dataFR, dataUK, dataSE, dataIN, dataNL, dataES, dataLA, dataCH, dataIT, dataDE, dataGA, dataIR, dataWA, dataPT];
const simSets = [simNJ, simNY, simBE, simIE, simMA, simMI, simFR, simUK, simSE, simIN, simNL, simES, simLA, simCH, simIT, simDE, simGA, simIR, simWA, simPT];
const h0Sets = [h0NJ, h0NY, h0BE, h0IE, h0MA, h0MI, h0FR, h0UK, h0SE, h0IN, h0NL, h0ES, h0LA, h0CH, h0IT, h0DE, h0GA, h0IR, h0WA, h0PT];
const bandSets = [bandNJ, bandNY, bandBE, bandIE, bandMA, bandMI, bandFR, bandUK, bandSE, bandIN, bandNL, bandES, bandLA, bandCH, bandIT, bandDE, bandGA, bandIR, bandWA, bandPT];

// ---- look ----
const RED = '#E5461D', YEL = '#BFCB12', BAND = '#F7C0B1', REFC = '#b3b3b3';
const BLUE_DARK = '#15609F', BLUE_LIGHT = '#1E9FEA';
const titleColor = { us: '#8A0A12', eu: '#4A44B4', asia: '#1F9A2E' };
const FONT = '"DejaVu Sans", "Liberation Sans", sans-serif';

const gridLeft = [122, 579, 1036, 1492];
const gridTop = [9, 273, 537, 800, 1064];
const gridW = 407, gridH = 238;

const chart = echarts.init(document.getElementById('chart'), null, { renderer: 'canvas' });

const grids = [], xAxes = [], yAxes = [], series = [], elems = [];
const tickStyle = { color: '#8a8a8a', width: 1.5 };

regions.forEach((name, i) => {
  const c = i % 4, r = Math.floor(i / 4);
  const L = gridLeft[c], T = gridTop[r], R = L + gridW;
  grids.push({ left: L, top: T, width: gridW, height: gridH, show: true,
    borderColor: '#a3a3a3', borderWidth: 1.5, backgroundColor: 'rgba(0,0,0,0)' });

  const xBase = { gridIndex: i, type: 'value', min: dayMin, max: dayMax,
    axisLine: { show: false }, splitLine: { show: false } };
  xAxes.push(Object.assign({}, xBase, {
    position: 'bottom',
    axisTick: { show: true, inside: true, length: 6, lineStyle: tickStyle, customValues: tickDays },
    axisLabel: { show: r === 4, customValues: tickDays, margin: 16,
      formatter: v => tickLabels[tickDays.indexOf(v)] || '',
      fontSize: 22, fontWeight: 'bold', color: '#262626', fontFamily: FONT }
  }));
  xAxes.push(Object.assign({}, xBase, {
    position: 'top',
    axisTick: { show: true, inside: true, length: 6, lineStyle: tickStyle, customValues: tickDays },
    axisLabel: { show: false }
  }));

  const yBase = { gridIndex: i, type: 'value', min: 0, max: yMaxValues[i],
    axisLine: { show: false }, splitLine: { show: false } };
  yAxes.push(Object.assign({}, yBase, {
    position: 'left',
    axisTick: { show: true, inside: true, length: 6, lineStyle: tickStyle, customValues: yTickValues[i] },
    axisLabel: { show: true, customValues: yTickValues[i], margin: 9,
      fontSize: 22, fontWeight: 'bold', color: '#262626', fontFamily: FONT }
  }));
  yAxes.push(Object.assign({}, yBase, {
    position: 'right',
    axisTick: { show: true, inside: true, length: 6, lineStyle: tickStyle, customValues: yTickValues[i] },
    axisLabel: { show: false }
  }));

  const xi = 2 * i, yi = 2 * i;
  const common = { type: 'line', xAxisIndex: xi, yAxisIndex: yi, showSymbol: false, symbol: 'none',
    silent: true, clip: true };
  const band = bandSets[i];

  // uncertainty band as one filled polygon between the low and high edges
  series.push({
    type: 'custom', name: 'band', xAxisIndex: xi, yAxisIndex: yi, silent: true, z: 1,
    data: [[dayMin, 0]],
    renderItem: (params, api) => {
      const upper = band.map(b => api.coord([b[0], b[2]]));
      const lower = band.map(b => api.coord([b[0], b[1]])).reverse();
      const cs = params.coordSys;
      return {
        type: 'group',
        clipPath: { type: 'rect', shape: { x: cs.x, y: cs.y, width: cs.width, height: cs.height } },
        children: [{ type: 'polygon', shape: { points: upper.concat(lower), smooth: 0.25 },
          style: { fill: BAND } }]
      };
    }
  });

  // reference level line
  if (yMaxValues[i] > REF_LEVEL) {
    series.push(Object.assign({}, common, {
      name: 'ref', data: [[dayMin, REF_LEVEL], [dayMax, REF_LEVEL]],
      lineStyle: { color: REFC, width: 3 }
    }));
  }

  series.push(Object.assign({}, common, {
    name: 'simH0', smooth: 0.3, data: h0Sets[i],
    lineStyle: { color: YEL, width: 4.5, cap: 'round', join: 'round' }, itemStyle: { color: YEL }
  }));
  series.push(Object.assign({}, common, {
    name: 'data', data: dataSets[i],
    lineStyle: { width: 5, cap: 'round', join: 'round',
      color: new echarts.graphic.LinearGradient(0, 0, 1, 0, [
        { offset: 0, color: BLUE_DARK }, { offset: 0.55, color: '#1868A8' },
        { offset: 0.7, color: BLUE_LIGHT }, { offset: 1, color: '#1F93DC' }]) },
    itemStyle: { color: BLUE_LIGHT }
  }));
  series.push(Object.assign({}, common, {
    name: 'simVar', smooth: 0.3, data: simSets[i],
    lineStyle: { color: RED, width: 4.5, cap: 'round', join: 'round' }, itemStyle: { color: RED }
  }));

  // region name and fit numbers
  elems.push({ type: 'text', x: L + 13, y: T + 19, z: 10,
    style: { text: name, fill: titleColor[regionKind[i]], font: 'bold 26px ' + FONT,
      align: 'left', verticalAlign: 'middle', textAlign: 'left', textVerticalAlign: 'middle' } });
  const numStyle = { fill: '#8a8a8a', font: 'bold 19px ' + FONT,
    align: 'left', verticalAlign: 'middle', textAlign: 'left', textVerticalAlign: 'middle' };
  elems.push({ type: 'text', x: R - 46, y: T + 21, z: 10, style: Object.assign({ text: String(h0Values[i]) }, numStyle) });
  elems.push({ type: 'text', x: R - 46, y: T + 64, z: 10, style: Object.assign({ text: String(muDtValues[i]) }, numStyle) });
  if (i === 0) {
    const richNum = {
      i: { fontStyle: 'italic', fontWeight: 'bold', fontSize: 19, fontFamily: FONT, fill: '#8a8a8a', lineHeight: 24 },
      s: { fontStyle: 'italic', fontWeight: 'bold', fontSize: 14, fontFamily: FONT, fill: '#8a8a8a', lineHeight: 24, padding: [20, 0, 0, 0] },
      n: { fontWeight: 'bold', fontSize: 19, fontFamily: FONT, fill: '#8a8a8a', lineHeight: 24 }
    };
    const preStyle = { font: 'bold 19px ' + FONT, fill: '#8a8a8a', align: 'right', verticalAlign: 'middle',
      textAlign: 'right', textVerticalAlign: 'middle', rich: richNum };
    elems.push({ type: 'text', x: R - 52, y: T + 21, z: 10, style: Object.assign({ text: '{i|H}{s|0}{n|=}' }, preStyle) });
    elems.push({ type: 'text', x: R - 52, y: T + 64, z: 10, style: Object.assign({ text: '{i|μ}{n|Δt=}' }, preStyle) });
  }
});

// shared y-axis caption
elems.push({ type: 'text', x: 60, y: 657, rotation: Math.PI / 2, z: 10,
  style: { text: 'per million', fill: '#9a9a9a', font: '26px ' + FONT,
    align: 'center', verticalAlign: 'middle', textAlign: 'center', textVerticalAlign: 'middle' } });

// banner with the headline statements
const bannerLines = ['model tested against', 'diverse response patterns', 'across many regions',
  'accessible through huge open data sets'];
const bannerY = [231, 384, 536, 690];
const measure = document.createElement('canvas').getContext('2d');
measure.font = 'bold 100px Lato';
const bannerSize = Math.round(100 * 1383 / measure.measureText(bannerLines[3]).width);
elems.push({ type: 'rect', z: 100, shape: { x: 9, y: 132, width: 1980, height: 779 },
  style: { fill: 'rgba(255,213,102,0.84)' } });
bannerLines.forEach((t, k) => {
  elems.push({ type: 'text', x: k === 3 ? 1008 : 1000, y: bannerY[k], z: 101,
    style: { text: t, fill: '#000000', font: 'bold ' + bannerSize + 'px Lato',
      align: 'center', verticalAlign: 'middle', textAlign: 'center', textVerticalAlign: 'middle' } });
});

// legend inside the Portugal panel
const legendRich = {
  i: { fontStyle: 'italic', fontWeight: 'bold', fontSize: 22, fontFamily: FONT, color: '#111', lineHeight: 26 },
  s: { fontStyle: 'italic', fontWeight: 'bold', fontSize: 16, fontFamily: FONT, color: '#111', lineHeight: 26, padding: [24, 0, 0, 0] }
};
const legendText = { simVar: 'sim. ( var {i|H} )', simH0: 'sim. ( {i|H}={i|H}{s|0} )', data: 'data' };
const legendItems = [
  { name: 'simVar', color: RED, top: 1124 },
  { name: 'simH0', color: YEL, top: 1149 },
  { name: 'data', color: BLUE_LIGHT, top: 1196 }
];
const legends = legendItems.map(it => ({
  show: true, selectedMode: false, orient: 'vertical', left: 1515, top: it.top, padding: 0,
  itemWidth: 30, itemHeight: 5,
  data: [{ name: it.name, icon: 'rect', itemStyle: { color: it.color } }],
  formatter: n => legendText[n],
  textStyle: { fontSize: 22, fontWeight: 'bold', color: '#111', fontFamily: FONT, lineHeight: 26, rich: legendRich }
}));

chart.setOption({
  animation: false,
  backgroundColor: '#ffffff',
  grid: grids,
  xAxis: xAxes,
  yAxis: yAxes,
  legend: legends,
  series: series,
  graphic: { elements: elems }
});
</script>
</body>
</html>
